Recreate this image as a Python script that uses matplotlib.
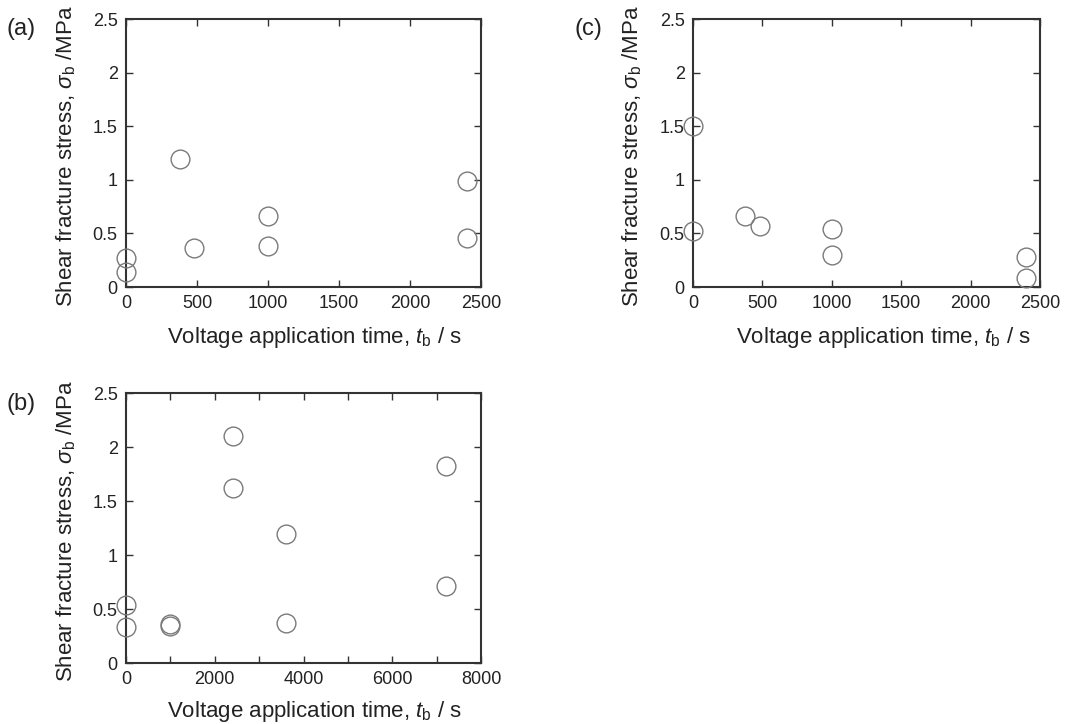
import matplotlib
matplotlib.use("Agg")
import matplotlib.pyplot as plt
from matplotlib.ticker import MultipleLocator

plt.rcParams['font.family'] = ['Liberation Sans', 'DejaVu Sans']
plt.rcParams['mathtext.fontset'] = 'custom'
plt.rcParams['mathtext.rm'] = 'Liberation Sans'
plt.rcParams['mathtext.it'] = 'Liberation Sans:italic'

# Panel (a)
a_time = [0, 0, 380, 480, 1000, 1000, 2400, 2400]
a_stress = [0.27, 0.14, 1.19, 0.36, 0.66, 0.38, 0.99, 0.46]
# Panel (b)
b_time = [0, 0, 1000, 1000, 2400, 2400, 3600, 3600, 7200, 7200]
b_stress = [0.54, 0.33, 0.36, 0.34, 2.10, 1.62, 1.19, 0.37, 1.82, 0.71]
# Panel (c)
c_time = [0, 0, 375, 480, 1000, 1000, 2400, 2400]
c_stress = [1.50, 0.52, 0.66, 0.57, 0.54, 0.30, 0.28, 0.08]

y_ticks = [0, 0.5, 1, 1.5, 2, 2.5]
y_ticklabels = ['0', '0.5', '1', '1.5', '2', '2.5']

W, H = 1091, 724
fig = plt.figure(figsize=(W / 100, H / 100), dpi=100)

def make_ax(left, top, right, bottom):
    return fig.add_axes([left / W, 1 - bottom / H, (right - left) / W, (bottom - top) / H])

xlab = r'Voltage application time, $t_{\mathrm{b}}$ / s'
ylab = r'Shear fracture stress, $\sigma_{\mathrm{b}}$ /MPa'
txtc = '#222222'

def style(ax, x, y, xmax, xmajor, xminor, label, lx, ly, xl_x, xl_y, yl_x):
    ax.plot(x, y, linestyle='none', marker='o', markersize=13.5,
            markerfacecolor='none', markeredgecolor='#7a7a7a', markeredgewidth=1.0,
            clip_on=False, zorder=3)
    ax.set_xlim(0, xmax)
    ax.set_ylim(0, 2.5)
    ax.xaxis.set_major_locator(MultipleLocator(xmajor))
    if xminor:
        ax.xaxis.set_minor_locator(MultipleLocator(xminor))
    ax.set_yticks(y_ticks)
    ax.set_yticklabels(y_ticklabels)
    ax.tick_params(which='both', direction='in', top=True, right=True,
                   labelsize=13, colors='#333333', labelcolor=txtc, width=1.0)
    ax.tick_params(which='major', length=5, pad=6)
    ax.tick_params(which='minor', length=5)
    for s in ax.spines.values():
        s.set_linewidth(1.5)
        s.set_color('#333333')
    ax.set_xlabel(xlab, fontsize=16, color=txtc)
    ax.set_ylabel(ylab, fontsize=16, color=txtc)
    ax.xaxis.set_label_coords(xl_x, xl_y)
    ax.yaxis.set_label_coords(yl_x, 0.49)
    fig.text(lx / W, 1 - ly / H, label, fontsize=17, color=txtc, ha='left', va='center')

axa = make_ax(126, 19, 481, 287)
style(axa, a_time, a_stress, 2500, 500, None, '(a)', 7, 29, 0.532, -0.14, -0.136)

axc = make_ax(693, 19, 1040, 287)
style(axc, c_time, c_stress, 2500, 500, None, '(c)', 574, 29, 0.548, -0.14, -0.142)

axb = make_ax(126, 393, 481, 663)
style(axb, b_time, b_stress, 8000, 2000, 1000, '(b)', 7, 404, 0.532, -0.135, -0.136)

fig.savefig('out.png', dpi=100)
